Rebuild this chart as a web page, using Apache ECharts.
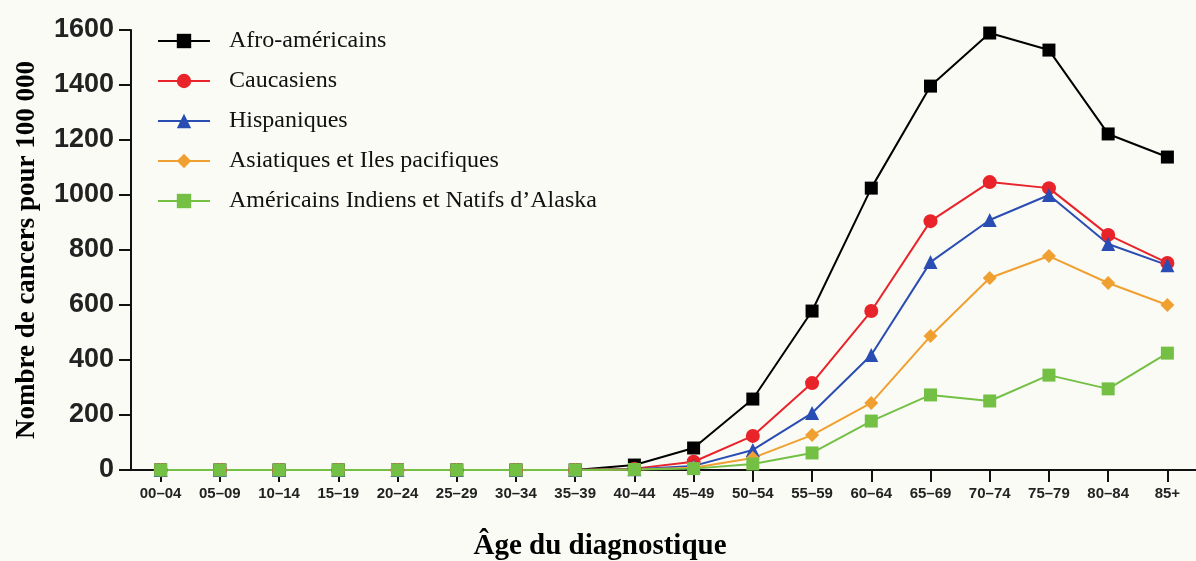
<!DOCTYPE html>
<html>
<head>
    <meta charset="utf-8">
    <script src="https://cdn.jsdelivr.net/npm/echarts@6/dist/echarts.min.js"></script>
    <style type="text/css">
        html, body { width: 100%; height: 100%; margin: 0; background: #fbfbf6; }
        #chart { width: 1196px; height: 561px; }
    </style>
</head>
<body>
<div id="chart"></div>
<script type="text/javascript">
    // tranches d'âge
    var ages = ['00–04', '05–09', '10–14', '15–19', '20–24', '25–29', '30–34', '35–39', '40–44',
        '45–49', '50–54', '55–59', '60–64', '65–69', '70–74', '75–79', '80–84', '85+'];
    var yTicks = [0, 200, 400, 600, 800, 1000, 1200, 1400, 1600];

    var afro      = [0, 0, 0, 0, 0, 0, 0, 0, 18, 80, 258, 578, 1025, 1396, 1589, 1527, 1222, 1138];
    var caucasien = [0, 0, 0, 0, 0, 0, 0, 0, 5, 30, 124, 316, 578, 905, 1047, 1025, 855, 753];
    var hispan    = [0, 0, 0, 0, 0, 0, 0, 0, 3, 15, 73, 207, 418, 756, 909, 1000, 822, 745];
    var asiat     = [0, 0, 0, 0, 0, 0, 0, 0, 2, 8, 44, 127, 244, 487, 698, 778, 680, 600];
    var indiens   = [0, 0, 0, 0, 0, 0, 0, 0, 2, 5, 22, 62, 178, 273, 251, 345, 295, 425];

    function mkSerie(name, data, color, symbol, size) {
        return {
            name: name,
            type: 'line',
            data: data,
            symbol: symbol,
            symbolSize: size,
            lineStyle: { width: 2, color: color },
            itemStyle: { color: color },
            emphasis: { disabled: true }
        };
    }

    var option = {
        backgroundColor: '#fbfbf6',
        animation: false,
        legend: {
            orient: 'vertical',
            left: 157,
            top: 29,
            padding: 0,
            itemWidth: 52,
            itemHeight: 18,
            itemGap: 16,
            textStyle: { fontFamily: 'Liberation Serif', fontSize: 24, color: '#111', padding: [0, 0, 0, 14] },
            data: ['Afro-américains', 'Caucasiens', 'Hispaniques', 'Asiatiques et Iles pacifiques',
                'Américains Indiens et Natifs d’Alaska']
        },
        grid: { left: 131, top: 30, width: 1066, height: 440, outerBoundsMode: 'none', containLabel: false },
        xAxis: {
            type: 'category',
            data: ages,
            boundaryGap: true,
            name: 'Âge du diagnostique',
            nameLocation: 'middle',
            nameGap: 62,
            nameTextStyle: {
                fontFamily: 'Liberation Serif', fontWeight: 'bold', fontSize: 29, color: '#000',
                padding: [0, 128, 0, 0]
            },
            axisLine: { lineStyle: { color: '#111', width: 2 } },
            axisTick: { show: true, alignWithLabel: true, length: 12, lineStyle: { color: '#111', width: 2 } },
            axisLabel: {
                margin: 16, fontFamily: 'Liberation Sans Narrow, Liberation Sans', fontWeight: 'bold',
                fontSize: 15, color: '#222'
            },
            splitLine: { show: false }
        },
        yAxis: {
            type: 'value',
            min: 0,
            max: 1600,
            interval: 200,
            name: 'Nombre de cancers pour 100 000',
            nameLocation: 'middle',
            nameRotate: 90,
            nameGap: 90,
            nameTextStyle: { fontFamily: 'Liberation Serif', fontWeight: 'bold', fontSize: 27, color: '#000' },
            axisLine: { show: true, lineStyle: { color: '#111', width: 2 } },
            axisTick: { show: true, length: 12, lineStyle: { color: '#111', width: 2 } },
            axisLabel: {
                margin: 17, fontFamily: 'Liberation Sans', fontWeight: 'bold', fontSize: 27, color: '#222',
                formatter: function (v) { return yTicks.indexOf(v) >= 0 ? String(v) : ''; }
            },
            splitLine: { show: false }
        },
        series: [
            mkSerie('Afro-américains', afro, '#000000', 'rect', 13),
            mkSerie('Caucasiens', caucasien, '#e8232a', 'circle', 14),
            mkSerie('Hispaniques', hispan, '#2a4db3', 'triangle', 14),
            mkSerie('Asiatiques et Iles pacifiques', asiat, '#f0a030', 'diamond', 14),
            mkSerie('Américains Indiens et Natifs d’Alaska', indiens, '#74c045', 'rect', 13)
        ]
    };

    var myChart = echarts.init(document.getElementById('chart'));
    myChart.setOption(option);
</script>
</body>
</html>
